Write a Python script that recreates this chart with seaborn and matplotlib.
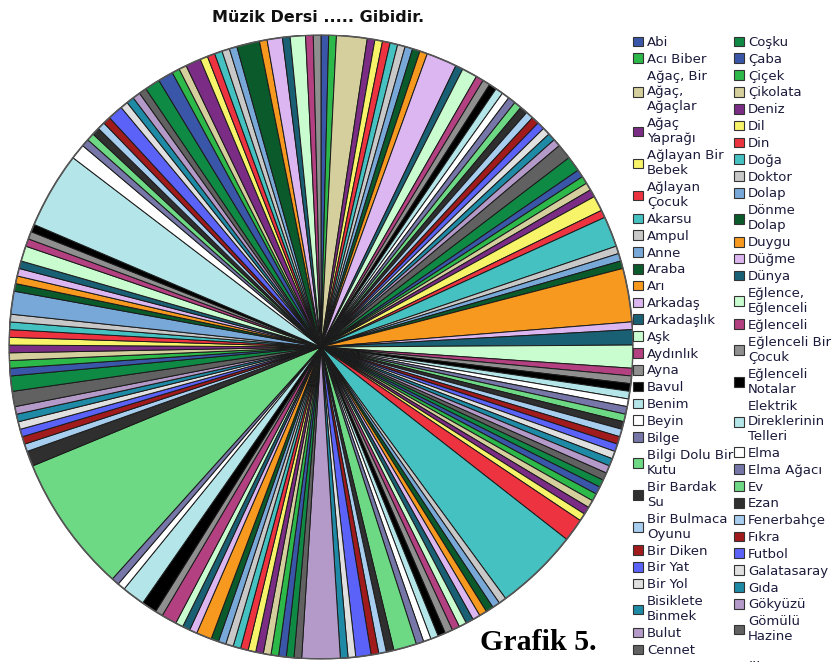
import matplotlib
matplotlib.use("Agg")
import matplotlib.pyplot as plt
from matplotlib.patches import Patch, Circle
import seaborn as sns

# ---------------- data ----------------
title = "Müzik Dersi ..... Gibidir."
caption = "Grafik 5."

# legend entries visible in the reference (the legend is truncated with "...")
legend_col1 = ["Abi", "Acı Biber", "Ağaç, Bir\nAğaç,\nAğaçlar", "Ağaç\nYaprağı",
               "Ağlayan Bir\nBebek", "Ağlayan\nÇocuk", "Akarsu", "Ampul", "Anne",
               "Araba", "Arı", "Arkadaş", "Arkadaşlık", "Aşk", "Aydınlık", "Ayna",
               "Bavul", "Benim", "Beyin", "Bilge", "Bilgi Dolu Bir\nKutu",
               "Bir Bardak\nSu", "Bir Bulmaca\nOyunu", "Bir Diken", "Bir Yat",
               "Bir Yol", "Bisiklete\nBinmek", "Bulut", "Cennet"]
legend_col2 = ["Coşku", "Çaba", "Çiçek", "Çikolata", "Deniz", "Dil", "Din", "Doğa",
               "Doktor", "Dolap", "Dönme\nDolap", "Duygu", "Düğme", "Dünya",
               "Eğlence,\nEğlenceli", "Eğlenceli", "Eğlenceli Bir\nÇocuk",
               "Eğlenceli\nNotalar", "Elektrik\nDireklerinin\nTelleri", "Elma",
               "Elma Ağacı", "Ev", "Ezan", "Fenerbahçe", "Fıkra", "Futbol",
               "Galatasaray", "Gıda", "Gökyüzü", "Gömülü\nHazine"]

# slice counts, clockwise from 12 o'clock (alphabetical order of metaphors)
counts = [
    1, 1, 4, 1, 1, 1, 1, 1, 1, 1, 1, 4, 1, 2, 1, 1, 1, 1, 1, 1, 1, 1, 1, 1, 1, 1, 1, 1, 2, 2,
    1, 1, 1, 1, 2, 1, 4, 1, 1, 1, 7, 1, 2, 3, 1, 1, 1, 1, 1, 1, 1, 1, 1, 1, 1, 1, 1, 1, 1, 1,
    1, 1, 1, 1, 1, 3, 11, 1, 1, 1, 1, 1, 1, 1, 1, 1, 1, 1, 1, 1, 3, 1, 1, 1, 2, 1, 1, 5, 1, 1,
    1, 1, 1, 1, 1, 1, 1, 1, 1, 1, 2, 1, 1, 1, 2, 1, 2, 3, 1, 1, 18, 2, 1, 1, 1, 1, 1, 1, 2, 2,
    1, 1, 1, 1, 1, 1, 1, 1, 3, 1, 1, 1, 1, 2, 1, 1, 1, 10, 2, 1, 1, 1, 1, 1, 2, 1, 1, 1, 1, 2,
    2, 1, 1, 2, 1, 1, 1, 1, 1, 3, 1, 2, 1, 2, 1, 1,
]

palette_hex = ["#3a56a8", "#2db84a", "#d4cf9c", "#7b2c85", "#f8f46a", "#ee3340",
               "#46c1c2", "#c8c8c8", "#78a8d8", "#0b5a2c", "#f7981f", "#dcb6f0",
               "#1a6075", "#c9fdd0", "#b34080", "#8f8f8f", "#000000", "#b4e5e8",
               "#ffffff", "#7677a8", "#6ed985", "#2f2f2f", "#a7cdef", "#a11a1c",
               "#5b62f8", "#e0e0e0", "#1e8aa5", "#b49ac8", "#616161", "#0f8a45"]

# ---------------- plot ----------------
sns.set_theme(style="white")
plt.rcParams['font.family'] = ['DejaVu Sans']

colors = sns.color_palette(palette_hex, n_colors=len(palette_hex))
slice_colors = [colors[i % len(colors)] for i in range(len(counts))]

W, H = 833, 666
fig = plt.figure(figsize=(W / 100, H / 100), dpi=100)
cx, cy, r = 321, 347, 312
ax = fig.add_axes([(cx - r) / W, (H - cy - r) / H, 2 * r / W, 2 * r / H])
ax.pie(counts, colors=slice_colors, startangle=90, counterclock=False, radius=1,
       wedgeprops=dict(edgecolor='#1a1a1a', linewidth=0.7))
ax.add_patch(Circle((0, 0), 1, fill=False, edgecolor='#555555', linewidth=1.2))
ax.set_xlim(-1, 1)
ax.set_ylim(-1, 1)
ax.set_aspect('equal')
ax.axis('off')

fig.text(318 / W, 1 - 18 / H, title, ha='center', va='center',
         fontsize=11.5, fontweight='bold', color='#111111')

def handles_for(start, n):
    return [Patch(facecolor=colors[(start + i) % len(colors)], edgecolor='#333333',
                  linewidth=0.8) for i in range(n)]

common = dict(loc='upper left', frameon=False, fontsize=9.5, handlelength=0.75,
              handleheight=0.75, handletextpad=0.3, labelspacing=0.29,
              borderpad=0, borderaxespad=0, labelcolor='#1a1a3a')
leg1 = fig.legend(handles_for(0, len(legend_col1)), legend_col1,
                  bbox_to_anchor=(633 / W, 1 - 36 / H), **common)
leg2 = fig.legend(handles_for(len(legend_col1), len(legend_col2)), legend_col2,
                  bbox_to_anchor=(734 / W, 1 - 36 / H), **common)
for leg in (leg1, leg2):
    for t in leg.get_texts():
        t.set_linespacing(1.22)

fig.text(749 / W, 1 - 659 / H, "...", ha='left', va='center', fontsize=9.5,
         color='#1a1a3a')

fig.text(480 / W, 1 - 642 / H, caption, ha='left', va='center', fontsize=21.5,
         fontweight='bold', family=['Liberation Serif'], color='#000000')

fig.savefig('out.png', dpi=100)
